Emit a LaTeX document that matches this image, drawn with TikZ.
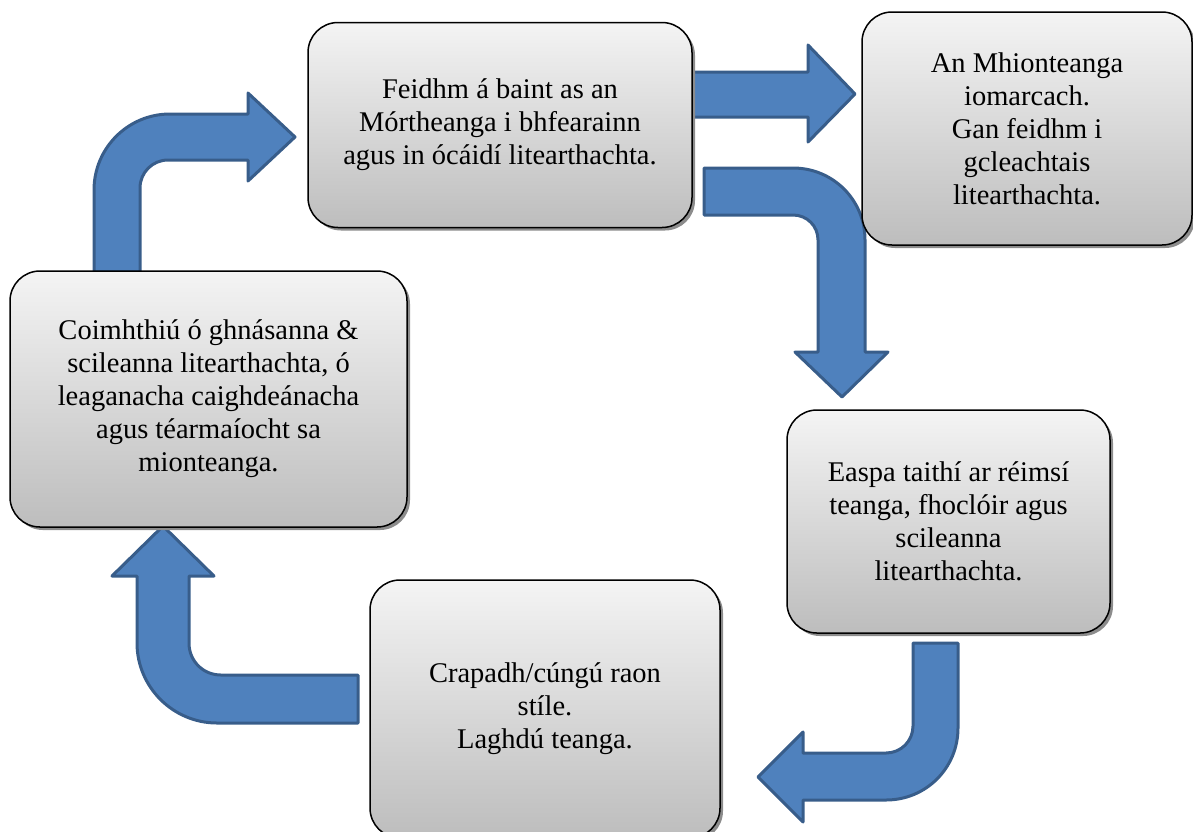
\documentclass[tikz,border=0pt]{standalone}
\usepackage{fontspec}
\setmainfont{Liberation Serif}
\usetikzlibrary{shadows}
\definecolor{arrfill}{HTML}{4F81BD}
\definecolor{arrdraw}{HTML}{385D8A}
\definecolor{boxtop}{HTML}{F4F4F4}
\definecolor{boxbot}{HTML}{BDBDBD}
\tikzset{
  barrow/.style={fill=arrfill, draw=arrdraw, line width=3pt, line join=round},
  box/.style={draw=black, line width=1.5pt, rounded corners=30pt,
    top color=boxtop, bottom color=boxbot, align=center,
    font=\fontsize{28.5}{33}\selectfont, inner sep=0pt,
    drop shadow={shadow xshift=3pt, shadow yshift=-3pt, opacity=1, fill=black!45}}
}
\begin{document}
\begin{tikzpicture}[x=1pt,y=-1pt]
\useasboundingbox (0,0) rectangle (1193,831);
% block arrows
\draw[barrow] (94,272) -- (94,190) .. controls (94,148) and (128,114) .. (170,114)
  -- (248,114) -- (248,93) -- (295,137) -- (248,181) -- (248,160) -- (168,160)
  .. controls (152.5,160) and (140,172.5) .. (140,188) -- (140,272) -- cycle;
\draw[barrow] (690,72) -- (808,72) -- (808,45) -- (855,94) -- (808,142) -- (808,117) -- (690,117) -- cycle;
\draw[barrow] (704,168) -- (793,168) .. controls (833,168) and (865,200) .. (865,240)
  -- (865,352) -- (888,352) -- (842,397) -- (795,352) -- (818,352) -- (818,240)
  .. controls (818,226) and (807,215) .. (793,215) -- (704,215) -- cycle;
\draw[barrow] (913,643) -- (958,643) -- (958,728) .. controls (958,768) and (926,800) .. (886,800)
  -- (803,800) -- (803,822) -- (758,777) -- (803,732) -- (803,753) -- (886,753)
  .. controls (901,753) and (913,741) .. (913,726) -- cycle;
\draw[barrow] (358,723) -- (217,723) .. controls (173,723) and (137,687) .. (137,643)
  -- (137,576) -- (112,576) -- (163,526) -- (214,576) -- (189,576) -- (189,643)
  .. controls (189,661) and (203,675) .. (221,675) -- (358,675) -- cycle;
% boxes
\node[box, minimum width=384pt, minimum height=205pt] (A) at (500,125)
  {Feidhm á baint as an\\Mórtheanga i bhfearainn\\agus in ócáidí litearthachta.};
\node[box, minimum width=330pt, minimum height=233pt] (B) at (1027,128.5)
  {An Mhionteanga\\iomarcach.\\Gan feidhm i\\gcleachtais\\litearthachta.};
\node[box, minimum width=323pt, minimum height=223pt] (C) at (948.5,521.5)
  {Easpa taithí ar réimsí\\teanga, fhoclóir agus\\scileanna\\litearthachta.};
\node[box, minimum width=350pt, minimum height=258pt] (D) at (545,709)
  {Crapadh/cúngú raon\\stíle.\\Laghdú teanga.};
\node[box, minimum width=397pt, minimum height=256pt] (E) at (208.5,399)
  {Coimhthiú ó ghnásanna \&\\scileanna litearthachta, ó\\leaganacha caighdeánacha\\agus téarmaíocht sa\\mionteanga.};
\end{tikzpicture}
\end{document}
